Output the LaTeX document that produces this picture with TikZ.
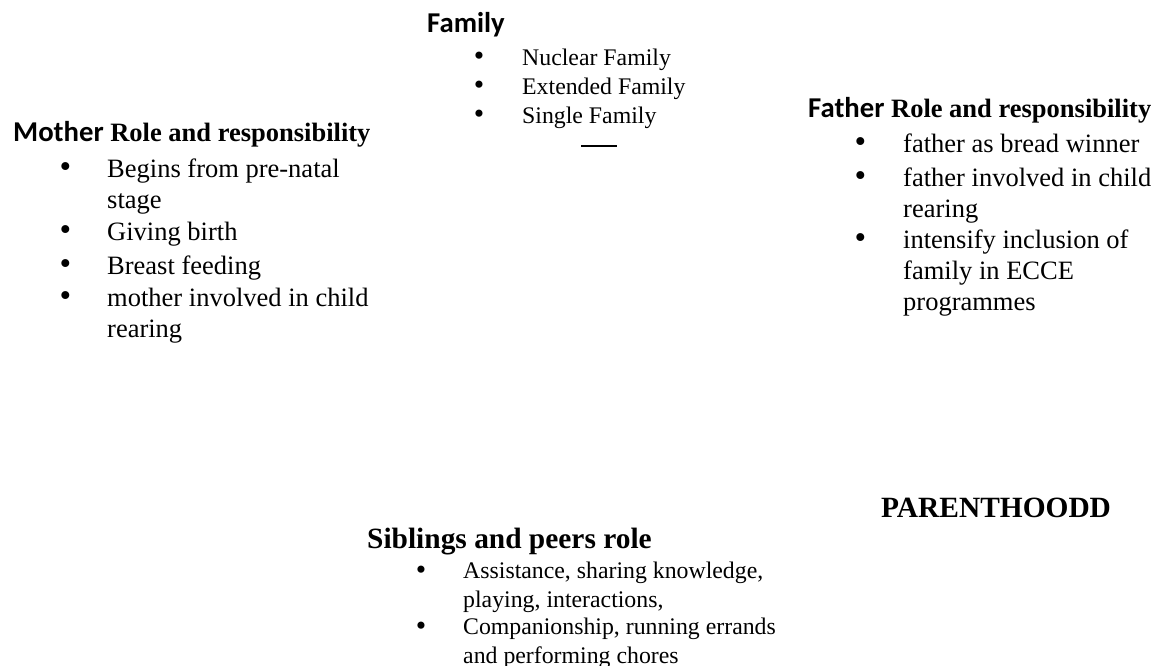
\documentclass[tikz,border=0pt]{standalone}
\usepackage{fontspec}
\setmainfont{Liberation Serif}
\newfontfamily\calib{Carlito}
\usepackage{tikz}

\newcommand\bul[1][37pt]{\makebox[0pt][r]{\raisebox{-0.5pt}{\scalebox{1.25}{\textbullet}}\hspace{#1}}}
\newcommand\cb[1]{{\calib\fontsize{28.7}{30}\selectfont\bfseries #1}}

\tikzset{
    head/.style={anchor=base west, inner sep=0pt, font=\fontsize{26.5}{30}\selectfont\bfseries},
    bighead/.style={anchor=base west, inner sep=0pt, font=\fontsize{29.4}{33}\selectfont\bfseries},
    item/.style={anchor=base west, inner sep=0pt, align=left, font=\fontsize{26.5}{31}\selectfont},
    smallitem/.style={anchor=base west, inner sep=0pt, align=left, font=\fontsize{23.8}{28.5}\selectfont},
}

\begin{document}
\begin{tikzpicture}[x=1pt, y=-1pt]
                \useasboundingbox (0,0) rectangle (1156,666);
                % family (base = last line)
                \node(fam_h) at(427, 33) [head] {\cb{Family}};
                \node(fam_a) at(522, 65.5) [smallitem] {\bul[38pt]Nuclear Family};
                \node(fam_b) at(522, 94.5) [smallitem] {\bul[38pt]Extended Family};
                \node(fam_c) at(522, 123.5) [smallitem] {\bul[38pt]Single Family};
                \draw[line width=1.8pt] (581, 146) -- (617, 146);
                % mother
                \node(mot_h) at(13, 142) [head] {\cb{Mother} Role and responsibility};
                \node(mot_a) at(107, 208) [item] {\bul[36pt]Begins from pre-natal\\stage};
                \node(mot_b) at(107, 240) [item] {\bul[36pt]Giving birth};
                \node(mot_c) at(107, 274) [item] {\bul[36pt]Breast feeding};
                \node(mot_d) at(107, 337) [item] {\bul[36pt]mother involved in child\\rearing};
                % father
                \node(fat_h) at(808, 118) [head] {\cb{Father} Role and responsibility};
                \node(fat_a) at(903, 152) [item] {\bul father as bread winner};
                \node(fat_b) at(903, 217) [item] {\bul father involved in child\\rearing};
                \node(fat_c) at(903, 310) [item] {\bul intensify inclusion of\\family in ECCE\\programmes};
                % siblings
                \node(sib_h) at(367, 548) [bighead] {Siblings and peers role};
                \node(sib_a) at(463, 607) [smallitem] {\bul[37pt]Assistance, sharing knowledge,\\playing, interactions,};
                \node(sib_b) at(463, 663) [smallitem] {\bul[37pt]Companionship, running errands\\and performing chores};
                \node(par) at(881, 517) [bighead] {PARENTHOODD};
            \end{tikzpicture}
\end{document}
